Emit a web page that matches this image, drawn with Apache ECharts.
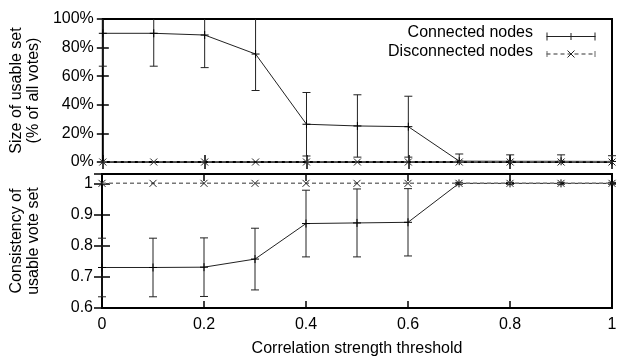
<!DOCTYPE html>
<html>
<head>
<meta charset="utf-8">
<script src="https://cdn.jsdelivr.net/npm/echarts@6/dist/echarts.min.js"></script>
<style>html,body{margin:0;padding:0;background:#fff}#c{width:640px;height:358px}</style>
</head>
<body>
<div id="c"></div>
<script>
// ---- data ----
var thresholds = [0, 0.1, 0.2, 0.3, 0.4, 0.5, 0.6, 0.7, 0.8, 0.9, 1.0];
// top panel: size of usable set (% of all votes)
var sizeConnected    = [90, 90, 88.8, 75.5, 26.4, 25.2, 24.7, 0.6, 0.5, 0.5, 0.4];
var sizeConnectedErr = [23, 23, 22.8, 25.5, 22.2, 21.8, 21.3, 5, 4.5, 4.5, 4];
var sizeDisconnected = [0, 0, 0, 0, 0, 0, 0, 0, 0, 0, 0];
// bottom panel: consistency of usable vote set
var consConnected    = [0.730, 0.730, 0.731, 0.757, 0.871, 0.873, 0.875, 1.0, 1.0, 1.0, 1.0];
var consConnectedErr = [0.094, 0.094, 0.094, 0.099, 0.107, 0.109, 0.108, 0.003, 0.003, 0.003, 0.003];
var consDisconnected = [1, 1, 1, 1, 1, 1, 1, 1, 1, 1, 1];
var xTicks = [0, 0.2, 0.4, 0.6, 0.8, 1];

var FONT = 'Liberation Sans';
var PLUS = 'path://M0,5L10,5M5,0L5,10';
var CROSS = 'path://M0,0L10,10M10,0L0,10';

function pairs(ys) { return thresholds.map(function (x, i) { return [x, ys[i]]; }); }
function errData(ys, es) { return thresholds.map(function (x, i) { return [x, ys[i] - es[i], ys[i] + es[i]]; }); }

function errRender(params, api) {
  var cs = params.coordSys;
  var x = api.value(0);
  var lo = api.coord([x, api.value(1)]);
  var hi = api.coord([x, api.value(2)]);
  var top = cs.y, bot = cs.y + cs.height;
  var yLo = lo[1], yHi = hi[1];
  var children = [];
  var capLo = yLo <= bot, capHi = yHi >= top;
  yLo = Math.min(yLo, bot); yHi = Math.max(yHi, top);
  var st = { stroke: '#222', lineWidth: 1 };
  children.push({ type: 'line', shape: { x1: lo[0], y1: yLo, x2: lo[0], y2: yHi }, style: st });
  if (capLo) children.push({ type: 'line', shape: { x1: lo[0] - 4, y1: yLo, x2: lo[0] + 4, y2: yLo }, style: st });
  if (capHi) children.push({ type: 'line', shape: { x1: lo[0] - 4, y1: yHi, x2: lo[0] + 4, y2: yHi }, style: st });
  return { type: 'group', children: children };
}

var labelStyle = { color: '#000', fontFamily: FONT, fontSize: 16 };

function xAx(grid, pos, showLabel, name) {
  return {
    type: 'value', gridIndex: grid, position: pos, min: 0, max: 1, interval: 0.2,
    axisLine: { show: false },
    axisTick: { show: true, inside: true, length: 7, lineStyle: { color: '#000', width: 1.5 } },
    axisLabel: Object.assign({ show: showLabel, margin: 9 }, labelStyle),
    splitLine: { show: false },
    name: name || '', nameLocation: 'middle', nameGap: 33,
    nameTextStyle: { color: '#000', fontFamily: FONT, fontSize: 16 }
  };
}

var option = {
  animation: false,
  backgroundColor: '#fff',
  grid: [
    { left: 101, right: 28, top: 19, height: 143, show: true, borderColor: '#000', borderWidth: 2, backgroundColor: 'transparent' },
    { left: 101, right: 28, top: 174, height: 134, show: true, borderColor: '#000', borderWidth: 2, backgroundColor: 'transparent' }
  ],
  xAxis: [
    xAx(0, 'bottom', false),
    xAx(0, 'top', false),
    xAx(1, 'bottom', true, 'Correlation strength threshold'),
    xAx(1, 'top', false)
  ],
  yAxis: [
    {
      type: 'value', gridIndex: 0, position: 'left', min: 0, max: 100, interval: 20,
      axisLine: { show: false },
      axisTick: { show: true, inside: true, length: 6, lineStyle: { color: '#000', width: 1.5 } },
      axisLabel: Object.assign({ margin: 9, formatter: '{value}%' }, labelStyle),
      splitLine: { show: false },
      name: 'Size of usable set\n(% of all votes)', nameLocation: 'middle', nameGap: 60,
      nameTextStyle: { color: '#000', fontFamily: FONT, fontSize: 16, lineHeight: 17 }
    },
    {
      type: 'value', gridIndex: 0, position: 'right', min: 0, max: 100, interval: 20,
      axisLine: { show: false },
      axisTick: { show: true, inside: true, length: 6, lineStyle: { color: '#000', width: 1.5 } },
      axisLabel: { show: false }, splitLine: { show: false }
    },
    {
      type: 'value', gridIndex: 1, position: 'left', min: 0.6, max: 1.03, interval: 0.1,
      axisLine: { show: false },
      axisTick: { show: true, inside: true, length: 8, lineStyle: { color: '#000', width: 1.5 } },
      axisLabel: Object.assign({
        margin: 9,
        formatter: function (v) {
          return Math.abs(v * 10 - Math.round(v * 10)) < 1e-6 ? String(+v.toFixed(1)) : '';
        }
      }, labelStyle),
      splitLine: { show: false },
      name: 'Consistency of\nusable vote set', nameLocation: 'middle', nameGap: 60,
      nameTextStyle: { color: '#000', fontFamily: FONT, fontSize: 16, lineHeight: 17 }
    },
    {
      type: 'value', gridIndex: 1, position: 'right', min: 0.6, max: 1.03, interval: 0.1,
      axisLine: { show: false },
      axisTick: { show: true, inside: true, length: 8, lineStyle: { color: '#000', width: 1.5 } },
      axisLabel: { show: false }, splitLine: { show: false }
    }
  ],
  series: [
    {
      name: 'Connected nodes', type: 'line', xAxisIndex: 0, yAxisIndex: 0, data: pairs(sizeConnected),
      lineStyle: { color: '#222', width: 1 }, symbol: PLUS, symbolSize: 8, showAllSymbol: true,
      itemStyle: { color: 'transparent', borderColor: '#000', borderWidth: 1 }, z: 5
    },
    {
      name: 'ConnErrTop', type: 'custom', xAxisIndex: 0, yAxisIndex: 0, data: errData(sizeConnected, sizeConnectedErr),
      renderItem: errRender, clip: false, z: 4
    },
    {
      name: 'Disconnected nodes', type: 'line', xAxisIndex: 0, yAxisIndex: 0, data: pairs(sizeDisconnected),
      lineStyle: { color: '#777', width: 1.5, type: [4, 3] }, symbol: CROSS, symbolSize: 7, showAllSymbol: true,
      itemStyle: { color: 'transparent', borderColor: '#222', borderWidth: 1 }, z: 6
    },
    {
      name: 'Connected nodes', type: 'line', xAxisIndex: 2, yAxisIndex: 2, data: pairs(consConnected),
      lineStyle: { color: '#222', width: 1 }, symbol: PLUS, symbolSize: 8, showAllSymbol: true,
      itemStyle: { color: 'transparent', borderColor: '#000', borderWidth: 1 }, z: 5
    },
    {
      name: 'ConnErrBottom', type: 'custom', xAxisIndex: 2, yAxisIndex: 2, data: errData(consConnected, consConnectedErr),
      renderItem: errRender, clip: false, z: 4
    },
    {
      name: 'Disconnected nodes', type: 'line', xAxisIndex: 2, yAxisIndex: 2, data: pairs(consDisconnected),
      lineStyle: { color: '#777', width: 1.5, type: [4, 3] }, symbol: CROSS, symbolSize: 7, showAllSymbol: true,
      itemStyle: { color: 'transparent', borderColor: '#222', borderWidth: 1 }, z: 6
    }
  ],
  graphic: [
    { type: 'text', right: 640 - 533, top: 25, style: { text: 'Connected nodes', font: '16px "' + FONT + '"', fill: '#000' } },
    { type: 'text', right: 640 - 533, top: 44, style: { text: 'Disconnected nodes', font: '16px "' + FONT + '"', fill: '#000' } },
    { type: 'group', left: 544, top: 30, children: [
      { type: 'line', shape: { x1: 0, y1: 4, x2: 49, y2: 4 }, style: { stroke: '#222', lineWidth: 1 } },
      { type: 'line', shape: { x1: 0.5, y1: 0, x2: 0.5, y2: 8 }, style: { stroke: '#222', lineWidth: 1 } },
      { type: 'line', shape: { x1: 48.5, y1: 0, x2: 48.5, y2: 8 }, style: { stroke: '#222', lineWidth: 1 } },
      { type: 'line', shape: { x1: 24.5, y1: 0.5, x2: 24.5, y2: 7.5 }, style: { stroke: '#222', lineWidth: 1 } }
    ] },
    { type: 'group', left: 544, top: 48, children: [
      { type: 'line', shape: { x1: 0, y1: 4, x2: 49, y2: 4 }, style: { stroke: '#777', lineWidth: 1.5, lineDash: [4, 3] } },
      { type: 'line', shape: { x1: 0.5, y1: 1, x2: 0.5, y2: 7 }, style: { stroke: '#666', lineWidth: 1 } },
      { type: 'line', shape: { x1: 48.5, y1: 1, x2: 48.5, y2: 7 }, style: { stroke: '#666', lineWidth: 1 } },
      { type: 'line', shape: { x1: 21, y1: 0.5, x2: 28, y2: 7.5 }, style: { stroke: '#222', lineWidth: 1 } },
      { type: 'line', shape: { x1: 28, y1: 0.5, x2: 21, y2: 7.5 }, style: { stroke: '#222', lineWidth: 1 } }
    ] }
  ]
};

var chart = echarts.init(document.getElementById('c'), null, { renderer: 'canvas' });
chart.setOption(option);
</script>
</body>
</html>
